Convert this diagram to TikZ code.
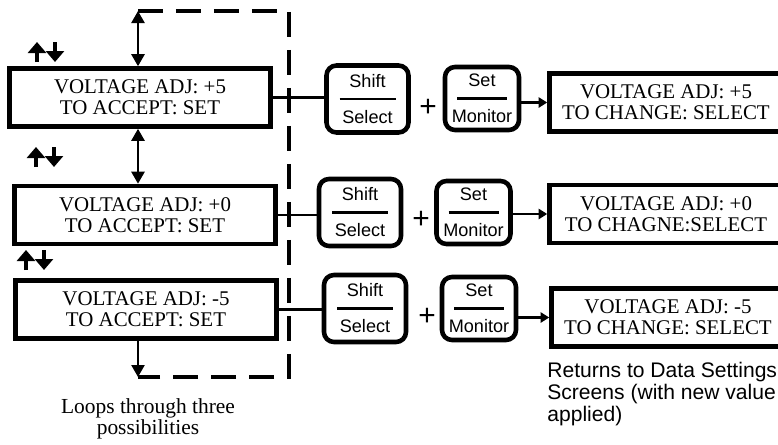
\documentclass[tikz,border=0pt]{standalone}
\usepackage{fontspec}
\setmainfont{Liberation Serif}
\setsansfont{Liberation Sans}
\usetikzlibrary{arrows.meta,positioning,calc}

\begin{document}
\begin{tikzpicture}[x=0.02cm, y=-0.02cm,
    screen/.style={draw, line width=2.6pt, minimum width=5.22cm, minimum height=1.16cm,
        inner sep=0pt, align=center, font=\fontsize{11.9}{12.2}\selectfont},
    result/.style={screen, minimum width=4.66cm},
    key/.style={draw, line width=2.6pt, rounded corners=0.2cm, inner sep=0pt,
        align=center, font=\sffamily\fontsize{10.3}{20.5}\selectfont},
    shiftkey/.style={key, minimum width=1.64cm, minimum height=1.34cm},
    setkey/.style={key, minimum width=1.48cm, minimum height=1.26cm},
    plus/.style={inner sep=0pt, font=\sffamily\fontsize{17}{17}\selectfont},
    link/.style={line width=1.6pt},
    dbl/.style={line width=1.4pt, {Triangle[length=0.24cm,width=0.26cm]}-{Triangle[length=0.24cm,width=0.26cm]}},
    arr/.style={line width=1.4pt, -{Triangle[length=0.24cm,width=0.26cm]}},
    arrS/.style={line width=1.6pt, -{Triangle[length=0.17cm,width=0.2cm]}},
    loopline/.style={line width=2.4pt, dash pattern=on 0.5cm off 0.26cm},
    updown/.pic={
        \draw[line width=2.2pt, -{Triangle[length=0.22cm,width=0.36cm]}] (-9,10) -- (-9,-10);
        \draw[line width=2.2pt, -{Triangle[length=0.22cm,width=0.36cm]}] (9,-10) -- (9,10);
    }]
    \useasboundingbox (0,0) rectangle (778,444);

    % Telas de ajuste (esquerda)
    \node[screen] (screenA) at (140,97.5) {VOLTAGE ADJ: +5\\TO ACCEPT: SET};
    \node[screen] (screenB) at (145,215) {VOLTAGE ADJ: +0\\TO ACCEPT: SET};
    \node[screen] (screenC) at (146,309.5) {VOLTAGE ADJ: -5\\TO ACCEPT: SET};

    % Setas para cima / para baixo
    \pic at (46,52) {updown};
    \pic at (45,157) {updown};
    \pic at (35,260) {updown};

    % Laco tracejado
    \coordinate (loopTL) at (138,11);
    \coordinate (loopTR) at (289,11);
    \coordinate (loopBR) at (289,377);
    \coordinate (loopBL) at (138,377);
    \draw[loopline] (loopTL) -- (loopTR) -- (loopBR) -- (loopBL);
    \draw[dbl] (loopTL) -- (loopTL |- screenA.north);
    \draw[dbl] (screenA.south -| loopTL) -- (screenB.north -| loopTL);
    \draw[arr] (screenC.south -| loopBL) -- (loopBL);
    \node[align=center, font=\fontsize{12.2}{12}\selectfont] (loopNote) at (148,419)
        {Loops through three\\possibilities};

    % Teclas
    \node[shiftkey] (shiftA) at (367.5,99) {Shift\\Select};
    \node[plus] (plusA) at (428,108) {+};
    \node[setkey] (setA) at (482,98.5) {Set\\Monitor};
    \node[shiftkey] (shiftB) at (360,212.5) {Shift\\Select};
    \node[plus] (plusB) at (421,220) {+};
    \node[setkey] (setB) at (473.5,212.5) {Set\\Monitor};
    \node[shiftkey] (shiftC) at (365,308.5) {Shift\\Select};
    \node[plus] (plusC) at (427,317) {+};
    \node[setkey] (setC) at (479,308.5) {Set\\Monitor};
    \foreach \k in {shiftA,shiftB,shiftC}
        \draw[line width=1.2pt] (\k.center) ++(-28,0) -- ++(56,0);
    \foreach \k in {setA,setB,setC}
        \draw[line width=1.2pt] (\k.center) ++(-25,0) -- ++(50,0);

    % Telas de resultado (direita)
    \node[result] (resultA) at (666,102.5) {VOLTAGE ADJ: +5\\TO CHANGE: SELECT};
    \node[result] (resultB) at (666,214) {VOLTAGE ADJ: +0\\TO CHAGNE:SELECT};
    \node[result] (resultC) at (668,317.5) {VOLTAGE ADJ: -5\\TO CHANGE: SELECT};
    \node[anchor=north west, align=left, inner sep=0pt,
        font=\sffamily\fontsize{12}{12.5}\selectfont] (returnNote) at (547,362)
        {Returns to Data Settings\\Screens (with new value\\applied)};

    % Ligacoes
    \draw[link] (screenA.east) -- (screenA.east -| shiftA.west);
    \draw[link] (screenB.east) -- (screenB.east -| shiftB.west);
    \draw[link] (screenC.east) -- (screenC.east -| shiftC.west);
    \draw[arrS] (resultA.west -| setA.east) -- (resultA.west);
    \draw[arrS] (resultB.west -| setB.east) -- (resultB.west);
    \draw[arrS] (resultC.west -| setC.east) -- (resultC.west);
\end{tikzpicture}
\end{document}
